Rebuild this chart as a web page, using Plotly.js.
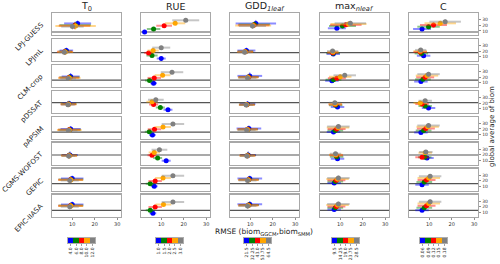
<!DOCTYPE html>
<html><head><meta charset="utf-8">
<script src="https://cdn.plot.ly/plotly-3.0.1.min.js"></script>
<style>html,body{margin:0;padding:0;background:#fff}#chart{width:500px;height:264px}</style>
</head><body><div id="chart"></div><script>
// ---------- DATA ----------
const models = ['LPJ-GUESS','LPJmL','CLM-crop','pDSSAT','pAPSIM','CGMS-WOFOST','GEPIC','EPIC-IIASA'];
const paramTitles = ['T<sub>0</sub>','RUE','GDD<sub><i>1leaf</i></sub>','max<sub><i>nleaf</i></sub>','C'];
const levelColors = ['blue','green','red','orange','gray'];
const levelRGB = ['0,0,255','0,128,0','255,0,0','255,165,0','128,128,128'];
const refBiom = [8.2, 17.3, 14.6, 20.8, 14.6, 19.8, 15.1, 13.7];

const legendT0  = ['4.0','6.0','8.0','10.0','12.0'];
const legendRUE = ['1.0','1.5','2.0','2.5','3.0'];
const legendGDD = ['21.5','32.25','43.0','53.75','64.5'];
const legendMAX = ['9.5','14.25','19.0','23.75','28.5'];
const legendC   = ['0.06','0.09','0.12','0.15','0.18'];

// rows = models, columns = parameter levels (blue, green, red, orange, gray)
const T0_x = [[12.4,11.3,11.0,11.5,10.1],[7.4,6.9,6.7,6.9,6.5],[9.3,8.8,8.5,8.7,8.2],[8.6,8.4,8.3,8.4,8.1],
              [9.3,8.8,8.6,8.7,8.3],[9.0,8.7,8.6,8.7,8.4],[10.0,9.4,9.2,9.4,8.9],[10.0,9.4,9.2,9.4,8.9]];
const T0_y = [[23,20,19,18.5,17.5],[21,19.5,19,18.5,18],[21,19.5,19,18.5,17.5],[19,18.2,18,17.8,17.2],
              [20,18.8,18.5,18.2,17.5],[20,19.2,19,18.7,18],[24,22.5,22,21.5,20.5],[24,22.2,21.7,21.2,20]];
const T0_ex = [[6,7,7,9,5],[3,3,3.5,3.5,2.5],[4,4.5,4.5,5,3.5],[3,3.5,3.5,3.5,3],
               [4.5,5,5,5.5,4],[3.5,3.5,3.5,3.5,3],[5,5.5,5.5,5.5,4],[5,5.5,5.5,5.5,4]];
const T0_ey = [[5,6,6,6,5],[5,5,5,5,4],[6,5,5,5,4],[5,5,5,5,4],
               [5,4,4,4,4],[6,5,5,5,5],[5,5,5,5,5],[5,5,5,5,5]];

const RUE_x = [[2.6,6.6,11.3,16.2,20.9],[10,5.9,4.4,6.4,10],[6.6,4.8,6.9,10.6,14.8],[13,9.6,6.6,5.9,7.6],
               [6.1,4.7,7.0,10.8,15.2],[12.2,8.4,5.9,6.9,9.2],[6.9,5.1,7.3,10.8,15.2],[6.3,5.1,7.3,11,15.2]];
const RUE_y = [[8.2,13.4,19,23.2,28.4],[7.2,12.4,16.9,21,26],[9.4,13.9,18.5,23.2,28.4],[8.2,12.3,17.4,22,25.5],
               [9.4,15.2,19.5,23.2,28.4],[10,14.7,19.2,24.3,28.9],[10.6,15.2,19.8,25,28.9],[8.9,14.1,19.8,23.9,28.4]];
const RUE_ex = [[1,3,3.5,4.5,6],[2,2.5,2,2.5,4],[1.5,2,3,3.5,5],[2,2,2,2.5,3.5],
                [1.5,2,3,3.5,5],[2,2,2,2.5,3.5],[1.5,2,3,3.5,5],[1.5,2,3,3.5,5]];
const RUE_ey = [[1.5,2,2.5,3,3.5],[1.5,2,2,2.5,3],[1.5,2,2.5,3,3.5],[1.5,2,2,2.5,3],
                [1.5,2,2.5,3,3.5],[1.5,2,2,2.5,3],[1.5,2,2.5,3,3.5],[1.5,2,2.5,3,3.5]];

const GDD_x = [[12.5,11.8,11.5,11.3,11.0],[8.3,7.9,7.8,7.7,7.5],[9.8,9.3,9.2,9.0,8.8],[8.8,8.6,8.5,8.4,8.2],
               [9.4,9.0,8.8,8.7,8.4],[9.1,8.9,8.8,8.7,8.5],[9.8,9.4,9.2,9.1,8.8],[9.8,9.4,9.2,9.1,8.8]];
const GDD_y = [[23,21,20,19.5,18.5],[21,19.5,19,18.7,18],[22,20.3,19.8,19.3,18.5],[18.5,17.5,17.2,17,16.5],
               [21,19.7,19.3,19,18.3],[20,19.3,19,18.7,18.2],[24,22.5,22,21.6,20.8],[24.5,23,22.6,22.2,21.2]];
const GDD_ex = [[9,7,7,8,6],[4,3.5,3.5,3.5,3],[5.5,4.5,4.5,4.5,4],[3.5,3.5,3.5,3.5,3],
                [5.5,4.5,4.5,4.5,4],[3.5,3.5,3.5,3.5,3],[5.5,4.5,4.5,4.5,4],[5.5,4.5,4.5,4.5,4]];
const GDD_ey = [[6,5,5,5,5],[5,4,4,4,4],[6,5,5,5,5],[5,4,4,4,4],
                [5,4,4,4,4],[6,5,5,5,5],[5,5,5,5,5],[5,5,5,5,5]];

const MAX_x = [[8.5,11,12.5,13.7,14.5],[6.9,6.8,6.7,6.8,6.6],[6.3,7,8.5,10,12],[8.8,8.0,7.8,7.8,7.6],
               [7,7.8,8.4,9,9.2],[8.8,8.4,8.2,8.0,7.9],[7.3,7.8,8.3,8.8,9.2],[7.3,7.8,8.3,8.8,9.2]];
const MAX_y = [[14.6,18.5,20.5,22,23.5],[15,16.5,17.3,18.5,20],[13.5,15.4,18,20.5,23],[13.2,16,17.5,18.5,20.5],
               [14.6,17.5,20,22.5,24.3],[13.4,17,19.5,20.3,22],[16.4,19,21,23,25],[15.4,18.5,20.5,23,25]];
const MAX_ex = [[4,6,7,8,7],[3,3,2.5,2.5,2.5],[3,3.5,4,5,5],[3,3,3,3,2.5],
                [3,3.5,4,5,5],[3,3,3,3,2.5],[3,3.5,4,5,5],[3,3.5,4,5,5]];
const MAX_ey = [[3,4,4,4,4],[3,3,3,3,3],[3,4,4,4,4],[3,3,3,3,3],
                [3,4,4,4,4],[3,3,3,3,3],[3,4,4,4,4],[3,4,4,4,4]];

const C_x = [[6.8,9.7,11.9,14.9,17.1],[7.5,6.5,6.0,6.0,6.2],[6.3,7.2,8.2,9.0,9.7],[9.7,8.2,6.8,6.0,8.2],
             [6.3,7.5,8.5,9.3,9.7],[9,8,6.8,8.2,8.5],[6.8,7.8,8.8,9.8,10.4],[6.8,7.8,8.8,9.8,10.4]];
const C_y = [[13.4,17.3,20.3,23.2,26],[12,16,18.5,20,22],[12.2,16,19.5,22.5,25],[11.2,15,18.1,20,24],
             [13.9,17.5,21,24,26],[14.8,16,16,23.6,25],[13.4,18,21.5,25,27.8],[14.1,18.5,22,25.5,28.6]];
const C_ex = [[4,5,6,7,7],[3,3,3,3,2.5],[3,3.5,4,5,5],[3,3,3,3,3],
              [3,3.5,4,5,5],[3,3,3,3,3],[3,3.5,4,5,5],[3,3.5,4,5,5]];
const C_ey = [[3,4,4,4,4],[3,3,3,3,3],[3,4,4,4,4],[3,3,3,3,3],
              [3,4,4,4,4],[3,3,3,3,3],[3,4,4,4,4],[3,4,4,4,4]];

// ---------- BUILD ----------
const W = 500, H = 264;
const FONT = 'DejaVu Sans';
const groups = [
  {x:T0_x, y:T0_y, ex:T0_ex, ey:T0_ey, legend:legendT0},
  {x:RUE_x, y:RUE_y, ex:RUE_ex, ey:RUE_ey, legend:legendRUE},
  {x:GDD_x, y:GDD_y, ex:GDD_ex, ey:GDD_ey, legend:legendGDD},
  {x:MAX_x, y:MAX_y, ex:MAX_ex, ey:MAX_ey, legend:legendMAX},
  {x:C_x, y:C_y, ex:C_ex, ey:C_ey, legend:legendC}
];
const colLeft = [52,141,230,320,409], panelW = 69;
const rowTop0 = 13, rowStep = 25.95, panelH = 22;
const legLeft = [68,156,244,332,420], legW = 27, legTop = 237.7, legBot = 243.3;

const traces = [], shapes = [], annotations = [];
const layout = {
  width: W, height: H, margin:{l:0,r:0,t:0,b:0},
  paper_bgcolor:'#fff', plot_bgcolor:'#fff', showlegend:false,
  font:{family:FONT, color:'#222'}, bargap:0
};

for (let r = 0; r < models.length; r++) {
  const top = rowTop0 + r*rowStep;
  const bottom = (r === models.length-1);
  for (let c = 0; c < 5; c++) {
    const k = r*5 + c + 1;
    layout['xaxis'+k] = {
      domain:[colLeft[c]/W, (colLeft[c]+panelW)/W], anchor:'y'+k, range:[1,31.7],
      showgrid:false, zeroline:false, showline:true, mirror:true, linecolor:'#a8a8a8', linewidth:1.3,
      tickvals:[10,20,30], ticks: bottom?'outside':'', ticklen:2, tickwidth:0.6, tickcolor:'#444',
      showticklabels: bottom, tickfont:{size:5, color:'#333', family:FONT}, fixedrange:true
    };
    layout['yaxis'+k] = {
      domain:[1-(top+panelH)/H, 1-top/H], anchor:'x'+k, range:[3,41],
      showgrid:false, zeroline:false, showline:true, mirror:true, linecolor:'#a8a8a8', linewidth:1.3,
      tickvals:[10,20,30], side: c===4?'right':'left', ticks: c===4?'outside':'', ticklen:2, tickwidth:0.6,
      tickcolor:'#444', showticklabels: c===4, tickfont:{size:4.5, color:'#333', family:FONT}, fixedrange:true
    };
    shapes.push({type:'line', xref:'x'+k+' domain', x0:0, x1:1, yref:'y'+k,
                 y0:refBiom[r], y1:refBiom[r], line:{color:'#555', width:1.2}, layer:'below'});
    const g = groups[c];
    for (let j = 0; j < 5; j++) {
      traces.push({
        type:'scatter', mode:'markers', xaxis:'x'+k, yaxis:'y'+k,
        x:[g.x[r][j]], y:[g.y[r][j]],
        marker:{color:levelColors[j], size:5},
        error_x:{type:'data', array:[g.ex[r][j]], color:'rgba('+levelRGB[j]+',0.45)', thickness:2, width:0},
        error_y:{type:'data', array:[g.ey[r][j]], color:'rgba('+levelRGB[j]+',0.55)', thickness:1, width:0},
        hoverinfo:'skip'
      });
    }
  }
  annotations.push({text:models[r], xref:'paper', yref:'paper', x:48/W, y:1-(top+5)/H,
    xanchor:'right', yanchor:'top', textangle:-45, showarrow:false, font:{size:7, family:FONT, color:'#222'}});
}

for (let c = 0; c < 5; c++) {
  annotations.push({text:paramTitles[c], xref:'paper', yref:'paper', x:(colLeft[c]+panelW/2)/W, y:1-7/H,
    xanchor:'center', yanchor:'middle', showarrow:false, font:{size:9.5, family:FONT, color:'#222'}});
  const k = 41 + c;
  layout['xaxis'+k] = {
    domain:[legLeft[c]/W, (legLeft[c]+legW)/W], anchor:'y'+k, type:'category',
    showgrid:false, zeroline:false, showline:true, mirror:true, linecolor:'#999', linewidth:0.8,
    ticks:'outside', ticklen:1.5, tickwidth:0.5, tickcolor:'#444', tickangle:-90,
    tickfont:{size:4.5, color:'#333', family:FONT}, fixedrange:true
  };
  layout['yaxis'+k] = {
    domain:[1-legBot/H, 1-legTop/H], anchor:'x'+k, range:[0,1],
    showgrid:false, zeroline:false, showline:true, mirror:true, linecolor:'#999', linewidth:0.8,
    showticklabels:false, ticks:'', fixedrange:true
  };
  traces.push({type:'bar', xaxis:'x'+k, yaxis:'y'+k, x:groups[c].legend, y:[1,1,1,1,1],
    marker:{color:levelColors, line:{width:0}}, hoverinfo:'skip'});
}

annotations.push({text:'RMSE (biom<sub>GGCM</sub>,biom<sub>SMM</sub>)', xref:'paper', yref:'paper',
  x:264/W, y:1-231.5/H, xanchor:'center', yanchor:'middle', showarrow:false, font:{size:7.5, family:FONT, color:'#222'}});
annotations.push({text:'global average of biom', xref:'paper', yref:'paper',
  x:492/W, y:1-127/H, xanchor:'center', yanchor:'middle', textangle:-90, showarrow:false, font:{size:7, family:FONT, color:'#222'}});

layout.shapes = shapes;
layout.annotations = annotations;
Plotly.newPlot('chart', traces, layout, {staticPlot:true, displayModeBar:false});
</script></body></html>
